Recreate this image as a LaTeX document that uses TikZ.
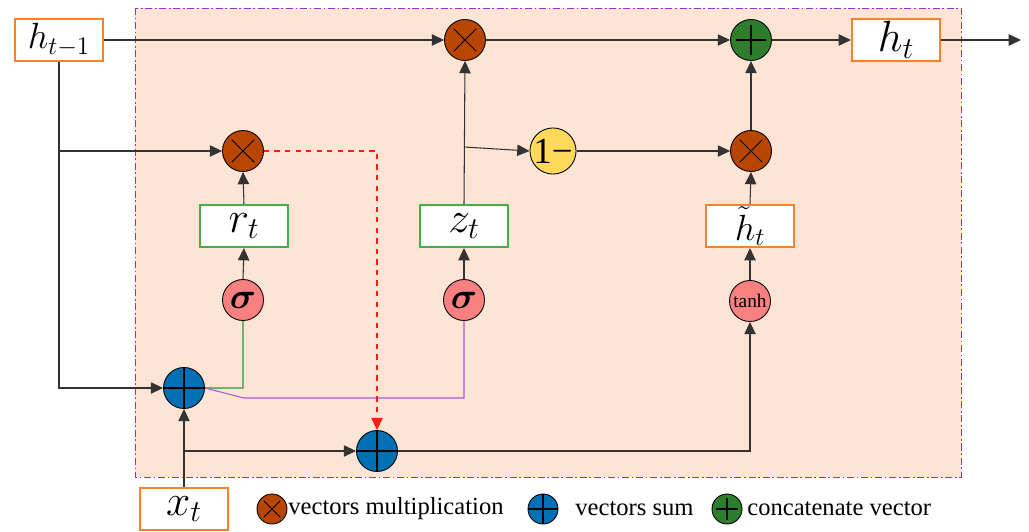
\documentclass[tikz,border=0pt]{standalone}
\usepackage{amsmath}
\usepackage{fontspec}
\setmainfont{Liberation Serif}
\usetikzlibrary{arrows.meta,calc}
\definecolor{cellbg}{HTML}{FDE4D5}
\definecolor{cellframe}{HTML}{9B30C8}
\definecolor{boxorange}{HTML}{F8812A}
\definecolor{boxgreen}{HTML}{44B044}
\definecolor{mulfill}{HTML}{B84500}
\definecolor{sumfill}{HTML}{0070B4}
\definecolor{catfill}{HTML}{2E7D2C}
\definecolor{actfill}{HTML}{F88080}
\definecolor{onefill}{HTML}{FFD95A}
\definecolor{wire}{HTML}{333333}
\begin{document}
\begin{tikzpicture}[>={Triangle[length=7pt,width=6.5pt]},
    wire/.style={draw=wire,line width=0.6pt},
    vecbox/.style={draw=boxorange,line width=1.2pt,fill=white,minimum width=1.76cm,minimum height=0.84cm,inner sep=0pt,font=\fontsize{23}{27}\selectfont},
    gatebox/.style={vecbox,draw=boxgreen},
    op/.style={circle,draw=black,line width=0.5pt,minimum size=0.82cm,inner sep=0pt},
    mulop/.style={op,fill=mulfill,path picture={\draw[line width=0.5pt]
      ($(path picture bounding box.center)!0.55!(path picture bounding box.south west)$) -- ($(path picture bounding box.center)!0.55!(path picture bounding box.north east)$)
      ($(path picture bounding box.center)!0.55!(path picture bounding box.north west)$) -- ($(path picture bounding box.center)!0.55!(path picture bounding box.south east)$);}},
    sumop/.style={op,fill=sumfill,path picture={\draw[line width=0.8pt] (path picture bounding box.north) -- (path picture bounding box.south) (path picture bounding box.west) -- (path picture bounding box.east);}},
    catop/.style={op,fill=catfill,path picture={\draw[line width=0.6pt]
      ($(path picture bounding box.center)!0.72!(path picture bounding box.north)$) -- ($(path picture bounding box.center)!0.72!(path picture bounding box.south)$)
      ($(path picture bounding box.center)!0.72!(path picture bounding box.west)$) -- ($(path picture bounding box.center)!0.72!(path picture bounding box.east)$);}},
    actop/.style={op,fill=actfill,font=\fontsize{22}{26}\selectfont},
    legend/.style={anchor=west,inner sep=0pt,font=\fontsize{14}{17}\selectfont}]
  \useasboundingbox (0,0) rectangle (20.58,-10.62);
  \draw[cellframe,fill=cellbg,line width=0.5pt,dash pattern=on 4pt off 1.5pt on 1pt off 1.5pt] (2.70,-0.16) rectangle (19.22,-9.54);

  \node[vecbox,font=\huge] (hprev) at (1.18,-0.80) {$h_{t-1}$};
  \node[mulop] (multop) at (9.30,-0.80) {};
  \node[catop] (cat) at (15.02,-0.80) {};
  \node[vecbox] (hnew) at (17.92,-0.80) {$h_t$};
  \coordinate (out) at (20.42,-0.80);
  \node[mulop] (mulr) at (4.86,-3.02) {};
  \node[op,fill=onefill,font=\fontsize{21}{24}\selectfont] (onem) at (11.06,-3.02) {1−};
  \node[mulop] (mulh) at (15.02,-3.02) {};
  \node[gatebox] (rt) at (4.88,-4.52) {$r_t$};
  \node[gatebox] (zt) at (9.28,-4.52) {$z_t$};
  \node[vecbox,font=\huge] (ht) at (15.00,-4.52) {$\tilde{h}_t$};
  \node[actop] (sigr) at (4.86,-6.00) {$\boldsymbol{\sigma}$};
  \node[actop] (sigz) at (9.28,-6.00) {$\boldsymbol{\sigma}$};
  \node[actop,font=\fontsize{11}{13}\selectfont] (tanh) at (15.00,-6.02) {tanh};
  \node[sumop] (sum1) at (3.68,-7.76) {};
  \node[sumop] (sum2) at (7.54,-9.02) {};
  \node[vecbox] (xt) at (3.68,-10.18) {$x_t$};

  \draw[wire,->] (hprev.east) -- (multop.west);
  \draw[wire,->] (multop.east) -- (cat.west);
  \draw[wire,->] (cat.east) -- (hnew.west);
  \draw[wire,->] (hnew.east) -- (out);
  \draw[wire,->] (hprev.south) |- (sum1.west);
  \draw[wire,->] (hprev.south |- mulr) -- (mulr.west);
  \draw[wire,->] (sigr.north) -- (rt.south);
  \draw[wire,->] (rt.north) -- (mulr.south);
  \draw[boxgreen!80!black!70,line width=0.6pt] (sum1.east) -| (sigr.south);
  \draw[cellframe!80,line width=0.6pt] (sum1.east) -- (4.88,-7.96) -| (sigz.south);
  \draw[wire,->] (sigz.north) -- (zt.south);
  \draw[wire,->] (zt.north) -- (multop.south);
  \coordinate (zsplit) at (9.28,-2.94);
  \draw[wire,->] (zsplit) -- (onem.west);
  \draw[wire,->] (onem.east) -- (mulh.west);
  \draw[wire,->] (mulh.north) -- (cat.south);
  \draw[wire,->] (ht.north) -- (mulh.south);
  \draw[wire,->] (tanh.north) -- (ht.south);
  \draw[wire,->] (xt.north) -- (sum1.south);
  \draw[wire,->] (xt.north |- sum2) -- (sum2.west);
  \draw[wire,->] (sum2.east) -| (tanh.south);
  \draw[red!90,line width=0.6pt,dashed,->] (mulr.east) -| (sum2.north);

  \node[mulop,minimum size=0.6cm] (lmul) at (5.44,-10.18) {};
  \node[legend] (lmultxt) at (5.76,-10.18) {vectors multiplication};
  \node[sumop,minimum size=0.6cm] (lsum) at (10.86,-10.18) {};
  \node[legend] (lsumtxt) at (11.50,-10.18) {vectors sum};
  \node[catop,minimum size=0.6cm] (lcat) at (14.54,-10.18) {};
  \node[legend] (lcattxt) at (14.94,-10.18) {concatenate vector};
\end{tikzpicture}
\end{document}
